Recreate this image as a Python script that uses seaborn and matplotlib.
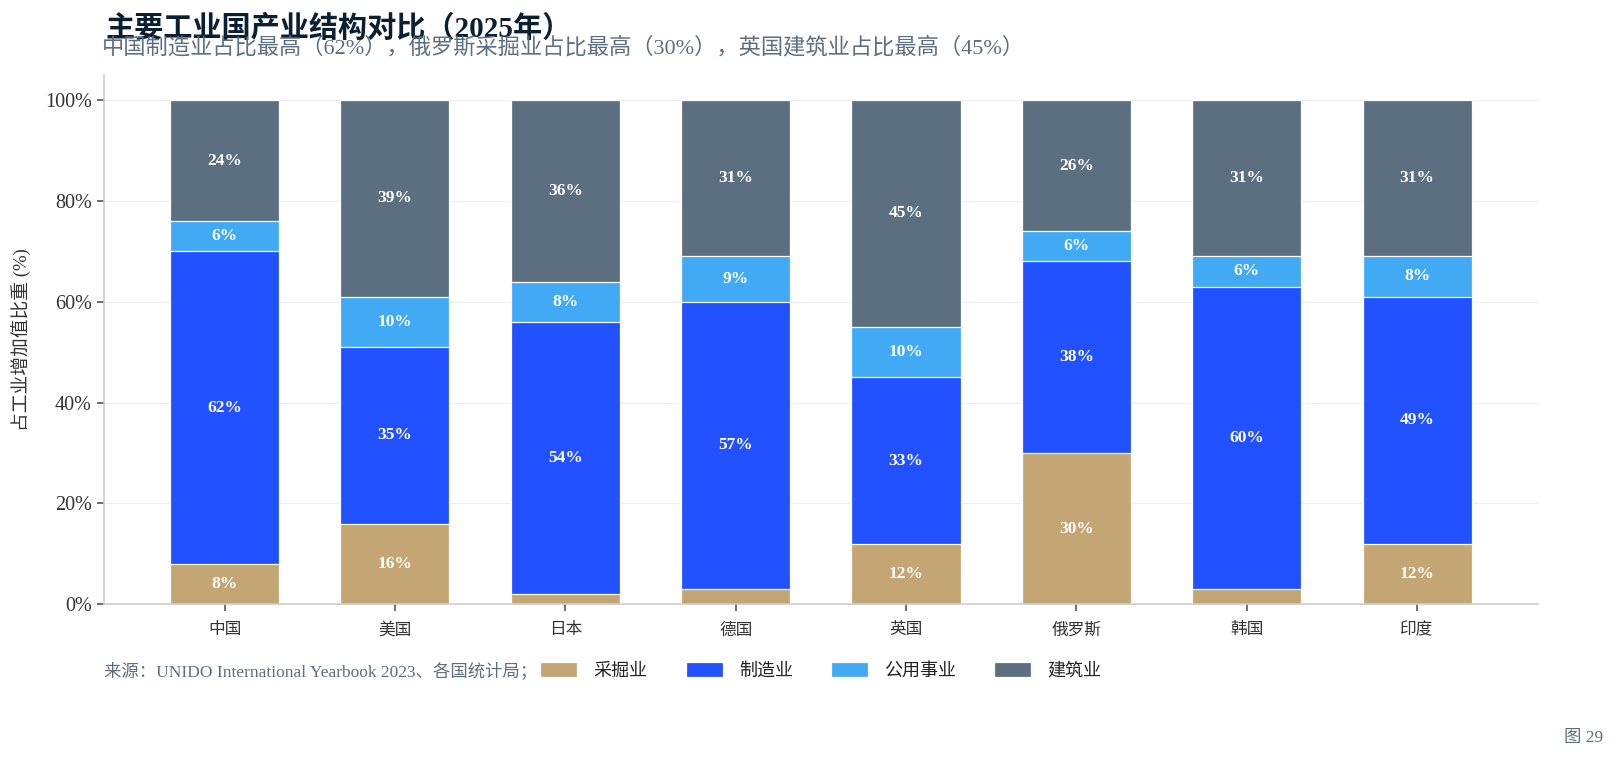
import numpy as np
import pandas as pd
import matplotlib
matplotlib.use("Agg")
import matplotlib.pyplot as plt
import seaborn as sns

# data
countries = ["中国", "美国", "日本", "德国", "英国", "俄罗斯", "韩国", "印度"]
sectors = ["采掘业", "制造业", "公用事业", "建筑业"]
mining = [8, 16, 2, 3, 12, 30, 3, 12]
manufacturing = [62, 35, 54, 57, 33, 38, 60, 49]
utilities = [6, 10, 8, 9, 10, 6, 6, 8]
construction = [24, 39, 36, 31, 45, 26, 31, 31]
colors = ["#C4A574", "#2251FF", "#42A9F5", "#5C6F80"]

sns.set_theme(style="white")
plt.rcParams["font.family"] = ["Liberation Serif", "Noto Sans CJK SC"]
plt.rcParams["axes.unicode_minus"] = False

df = pd.DataFrame({"country": countries, "采掘业": mining, "制造业": manufacturing,
                   "公用事业": utilities, "建筑业": construction})
vals = df[sectors].values
cum = np.cumsum(vals, axis=1)

fig = plt.figure(figsize=(16.19, 7.63), dpi=100)
ax = fig.add_axes([0.064, 0.208, 0.886, 0.694])

# stacked bars: draw cumulative totals from the top down
for i in range(len(sectors) - 1, -1, -1):
    d = pd.DataFrame({"country": countries, "v": cum[:, i]})
    sns.barplot(data=d, x="country", y="v", color=colors[i], width=0.64,
                edgecolor="white", linewidth=0.9, saturation=1, ax=ax, label=sectors[i])

for j in range(len(countries)):
    base = 0
    for i in range(len(sectors)):
        v = vals[j, i]
        if v >= 5:
            ax.text(j, base + v / 2, f"{v}%", ha="center", va="center", color="white",
                    fontsize=12.5, fontweight="bold")
        base += v

ax.set_ylim(0, 105)
ax.set_xlim(-0.71, 7.71)
ax.set_yticks([0, 20, 40, 60, 80, 100])
ax.set_yticklabels([f"{t}%" for t in [0, 20, 40, 60, 80, 100]], fontsize=14.5, color="#333333")
ax.set_xticks(range(len(countries)))
ax.set_xticklabels(countries, fontsize=12, color="#333333")
ax.tick_params(axis="both", length=5, width=1.2, color="#555555", bottom=True, left=True)
ax.tick_params(axis="x", pad=8)
ax.set_xlabel("")
ax.set_ylabel("占工业增加值比重 (%)", fontsize=13.5, color="#333333", labelpad=10)
ax.grid(axis="y", color="#EEEEEE", linewidth=0.8)
ax.set_axisbelow(True)
for s in ["top", "right"]:
    ax.spines[s].set_visible(False)
for s in ["left", "bottom"]:
    ax.spines[s].set_color("#CCCCCC")
    ax.spines[s].set_linewidth(1.2)

fig.text(0.065, 0.962, "主要工业国产业结构对比（2025年）", fontsize=21, fontweight="bold",
         color="#0B1F33", ha="left", va="center")
fig.text(0.063, 0.937, "中国制造业占比最高（62%），俄罗斯采掘业占比最高（30%），英国建筑业占比最高（45%）",
         fontsize=16, color="#5C6F80", ha="left", va="center")
# source line sits under the legend, which hides its tail (as in the reference)
ax.text(0.064, 0.12, "来源：UNIDO International Yearbook 2023、各国统计局；部分数据为估计值",
        transform=fig.transFigure, fontsize=12.5, color="#5C6F80", ha="left", va="center",
        clip_on=False, zorder=1)
fig.text(0.99, 0.033, "图 29", fontsize=12.5, color="#5C6F80", ha="right", va="center")

handles, labels = ax.get_legend_handles_labels()
order = [labels.index(s) for s in sectors]
leg = ax.legend([handles[k] for k in order], sectors, loc="center", bbox_to_anchor=(0.5, -0.126),
                ncol=4, frameon=True, facecolor="white", edgecolor="none", framealpha=1,
                fontsize=13, handlelength=2.05, handleheight=0.9, handletextpad=0.9,
                columnspacing=2.1, borderpad=0.2)
leg.set_zorder(10)
for t in leg.get_texts():
    t.set_color("#222222")

fig.savefig("out.png", dpi=100)
